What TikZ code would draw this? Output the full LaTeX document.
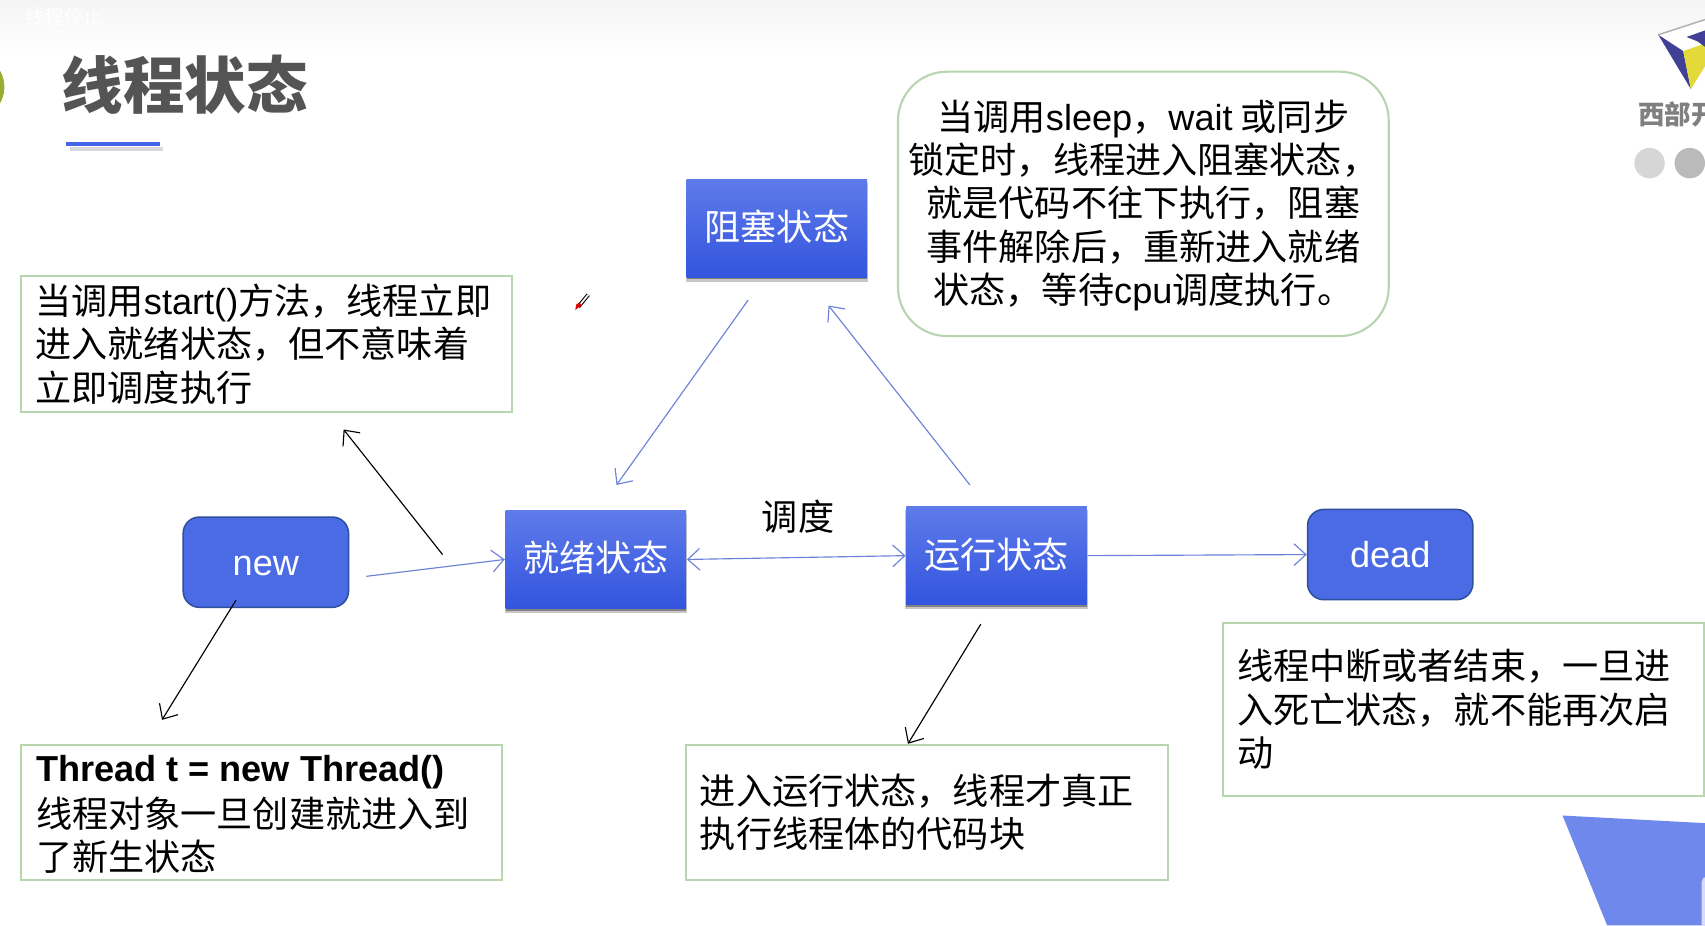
\documentclass[tikz,border=0pt]{standalone}
\usepackage{fontspec}
\setmainfont{Noto Sans CJK SC}
\newfontfamily\lat{Liberation Sans}
\usetikzlibrary{arrows.meta,shadows}
\definecolor{boxtop}{HTML}{5F7BEA}
\definecolor{boxmid}{HTML}{4666EA}
\definecolor{boxlow}{HTML}{3354DE}
\definecolor{roundfill}{HTML}{4A6BE3}
\definecolor{roundline}{HTML}{2F4F9F}
\definecolor{noteline}{HTML}{B7D6AE}
\definecolor{flowblue}{HTML}{6C82D8}
\definecolor{corner}{HTML}{6F88EC}
\newcommand{\canvaswidth}{1568}
\newcommand{\canvasheight}{851}
\tikzstyle{body}=[font=\fontsize{9.45}{11.35}\selectfont]
\tikzstyle{state}=[body, text=white, text height=0.29cm, text depth=0.06cm, minimum width=1.66cm, minimum height=0.9cm, inner sep=0pt, top color=boxtop, middle color=boxmid, bottom color=boxlow, general shadow={shadow xshift=0cm, shadow yshift=-0.035cm, shadow scale=1.01, fill=black, opacity=0.22}, general shadow={shadow xshift=0cm, shadow yshift=-0.02cm, shadow scale=1.0, fill=black, opacity=0.35}]
\tikzstyle{endstate}=[body, text=white, draw=roundline, fill=roundfill, rounded corners=0.15cm, minimum width=1.52cm, minimum height=0.83cm, inner sep=0pt]
\tikzstyle{note}=[body, align=left, anchor=north west, inner sep=0pt]
\tikzstyle{noteframe}=[noteline, line width=0.55pt]
\tikzstyle{flow}=[flowblue, line width=0.3pt, -{Straight Barb[length=0.11cm,width=0.2cm]}]
\tikzstyle{hint}=[black, line width=0.3pt, -{Straight Barb[length=0.11cm,width=0.2cm]}]

\begin{document}
\begin{tikzpicture}[x=0.01cm, y=-0.01cm]
    \useasboundingbox (0,0) rectangle (\canvaswidth,\canvasheight);
    \clip (0,0) rectangle (\canvaswidth,\canvasheight);
    \fill[white] (0,0) rectangle (\canvaswidth,\canvasheight);
    \shade[top color=black!4, bottom color=white] (0,0) rectangle (\canvaswidth,50);
    \node[white, font=\fontsize{5.1}{6}\selectfont] (toptext) at (59,16) {线程停止};

    % title
    \fill[green!45!black!35!yellow!60!gray] (-26,80) circle (30);
    \node[font=\fontsize{16.1}{18}\selectfont\bfseries, text=black!67] (title) at (170,78) {线程状态};
    \fill[black!30, opacity=0.5] (64,135) rectangle (150,139);
    \fill[boxmid] (61,131) rectangle (147,134);

    % logo and corner
    \fill[white] (1525,32) -- (1568,18) -- (1568,40) -- (1548,47) -- cycle;
    \draw[black!30, thin] (1525,32) -- (1568,18);
    \fill[blue!45!black!75!white] (1525,32) -- (1548,47) -- (1555,82) -- cycle;
    \fill[yellow!75!gray] (1548,47) -- (1568,40) -- (1568,61) -- (1555,82) -- cycle;
    \fill[blue!45!black!75!white] (1551,34) -- (1568,28) -- (1568,43) -- (1561,38) -- cycle;
    \node[font=\fontsize{6.9}{8}\selectfont\bfseries, text=black!50, anchor=west, inner sep=0pt] (brand) at (1506,105) {西部开};
    \fill[black!16] (1517,150) circle (14);
    \fill[black!27] (1554,150) circle (14);
    \fill[corner] (1437,750) -- (1568,757) -- (1568,851) -- (1478,851) -- cycle;
    \fill[blue!15!white, rounded corners=0.05cm] (1565,806) rectangle (1590,860);

    % pen mark
    \draw[black, line width=1pt] (532,282) -- (541,271);
    \draw[white, line width=0.45pt] (532,282) -- (541,271);
    \fill[red!85!black] (529,285) -- (530,280) -- (533,278) -- (535,281) -- cycle;

    % states
    \node[state] (blocked) at (714.5,210) {阻塞状态};
    \node[state] (ready) at (548,514.5) {就绪状态};
    \node[state] (running) at (916.5,511) {运行状态};
    \node[endstate, text height=0.24cm, text depth=0cm] (newstate) at (244.5,517) {\lat new};
    \node[endstate] (deadstate) at (1278.5,510) {\lat dead};
    \node[body] (sched) at (734,475) {调度};

    % notes
    \node[note, minimum height=1.25cm] at (32,253) (startnote) {当调用{\lat start()}方法，线程立即\\进入就绪状态，但不意味着\\立即调度执行};
    \draw[noteframe] (19,254) rectangle (471,379);
    \node[note, minimum height=1.24cm] at (32.5,686.5) (newnote) {{\fontsize{9.45}{11.35}\selectfont\lat\bfseries Thread t = new Thread()}\\[0.02cm]线程对象一旦创建就进入到\\了新生状态};
    \draw[noteframe] (19,685) rectangle (462,809);
    \node[note, minimum height=1.24cm] at (643,684.5) (runnote) {进入运行状态，线程才真正\\执行线程体的代码块};
    \draw[noteframe] (631,685) rectangle (1074,809);
    \node[note, minimum height=1.59cm] at (1137,572) (deadnote) {线程中断或者结束，一旦进\\入死亡状态，就不能再次启\\动};
    \draw[noteframe] (1125,573) rectangle (1567,732);
    \node[body, draw=noteline, line width=0.55pt, fill=white, rounded corners=0.45cm, minimum width=4.51cm, minimum height=2.43cm, align=center, inner sep=0pt] (blocknote) at (1051.5,187.5) {\\[-0.09cm]当调用{\lat sleep}，{\lat wait} 或同步\\锁定时，线程进入阻塞状态，\\就是代码不往下执行，阻塞\\事件解除后，重新进入就绪\\状态，等待{\lat cpu}调度执行。};

    % free ends of the arrows
    \coordinate (newout) at (337,530);
    \coordinate (startfrom) at (407,510);
    \coordinate (starttip) at (316,395);
    \coordinate (newfrom) at (217,552);
    \coordinate (newtip) at (149,662);
    \coordinate (blockfrom) at (688,276);
    \coordinate (blocktip) at (567,446);
    \coordinate (runfrom) at (892,446);
    \coordinate (runtip) at (762,281);
    \coordinate (notefrom) at (902,574);
    \coordinate (notetip) at (835,684);

    \draw[flow] (newout) -- (ready.west);
    \draw[flow, {Straight Barb[length=0.11cm,width=0.2cm]}-{Straight Barb[length=0.11cm,width=0.2cm]}] (ready.east) -- (running.west);
    \draw[flow] (running.east) -- (deadstate.west);
    \draw[flow] (blockfrom) -- (blocktip);
    \draw[flow] (runfrom) -- (runtip);
    \draw[hint] (startfrom) -- (starttip);
    \draw[hint] (newfrom) -- (newtip);
    \draw[hint] (notefrom) -- (notetip);
\end{tikzpicture}
\end{document}
